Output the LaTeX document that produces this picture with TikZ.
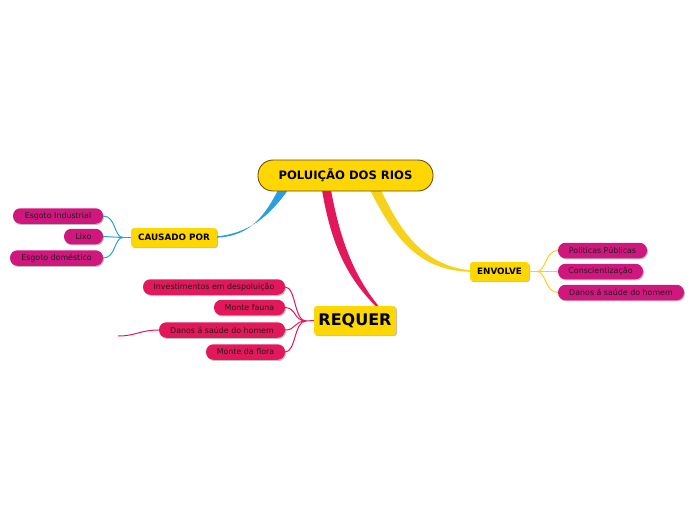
\documentclass[tikz,border=0pt]{standalone}
\usepackage{fontspec}
\setmainfont{DejaVu Sans}
\usetikzlibrary{shadows}
\definecolor{gold}{HTML}{FFD700}
\definecolor{brownb}{HTML}{6B4A1E}
\definecolor{magleaf}{HTML}{CF177E}
\definecolor{crim}{HTML}{E2185B}
\definecolor{bluebr}{HTML}{2A9FE0}
\definecolor{yelbr}{HTML}{F7D21C}
\definecolor{txt}{HTML}{1E1E1E}
\begin{document}
\begin{tikzpicture}[x=1pt,y=-1pt,
  shd/.style={drop shadow={shadow xshift=1pt,shadow yshift=-1.2pt,opacity=0.25,fill=black}},
  central/.style={draw=brownb,line width=0.9pt,fill=gold,rounded corners=15pt,minimum width=175pt,minimum height=31pt,inner sep=0pt,font=\fontsize{11.6}{13}\selectfont\bfseries,text=black},
  sub/.style={shd,fill=gold,rounded corners=3pt,minimum height=19pt,inner sep=0pt,font=\fontsize{8.8}{10}\selectfont\bfseries,text=black},
  leafm/.style={shd,fill=magleaf,rounded corners=7.5pt,minimum height=15.5pt,inner sep=0pt,font=\fontsize{7.9}{9}\selectfont,text=txt},
  leafc/.style={leafm,fill=crim},
  lnb/.style={draw=bluebr,line width=1pt},
  lny/.style={draw=yelbr,line width=1pt},
  lnc/.style={draw=crim,line width=1pt},
]
\useasboundingbox (0,0) rectangle (696,520);
% main tapered branches
\fill[bluebr] (278,190) .. controls (262,222) and (245,236.5) .. (217,237.6) -- (217,236.4) .. controls (248,233) and (268,218) .. (288,190) -- cycle;
\fill[crim] (322,190) .. controls (332,250) and (350,280) .. (375.5,306) -- (378.5,306) .. controls (356,278) and (341,245) .. (331,190) -- cycle;
\fill[yelbr] (370,190) .. controls (395,240) and (420,270.5) .. (470,271.8) -- (470,270.4) .. controls (425,265) and (402,235) .. (381,190) -- cycle;

% nodes
\node[central] (root) at (345.5,175.5) {POLUIÇÃO DOS RIOS};
\node[sub,minimum width=86pt] (cau) at (174,237.5) {CAUSADO POR};
\node[sub,minimum width=59pt] (env) at (499.5,271.5) {ENVOLVE};
\node[sub,minimum width=82pt,minimum height=29pt,font=\fontsize{16}{18}\selectfont\bfseries] (req) at (355,320.5) {REQUER};

\node[leafm,minimum width=90pt] (ei) at (58,216) {Esgoto Industrial};
\node[leafm,minimum width=39pt] (lx) at (83.5,236.5) {Lixo};
\node[leafm,minimum width=93pt] (ed) at (56.5,258) {Esgoto doméstico};

\node[leafm,minimum width=89pt] (pp) at (602.5,250.5) {Políticas Públicas};
\node[leafm,minimum width=85pt] (cs) at (600.5,271.5) {Conscientização};
\node[leafm,minimum width=126pt] (dr) at (621,292.5) {Danos á saúde do homem};

\node[leafc,minimum width=142pt] (inv) at (214,287) {Investimentos em despoluição};
\node[leafc,minimum width=71pt] (mf) at (249.5,307.5) {Monte fauna};
\node[leafc,minimum width=126pt] (dl) at (222,330) {Danos á saúde do homem};
\node[leafc,minimum width=79pt] (mfl) at (245.5,352) {Monte da flora};

% junctions
\coordinate (jc) at (123,237.5);
\coordinate (je) at (537,271.5);
\coordinate (jr) at (306,321);
\coordinate (fe) at (118,336);

\draw[lnb] (cau.west) -- (jc);
\draw[lnb] (ei.east) .. controls (116,216) and (114,237.5) .. (jc);
\draw[lnb] (lx.east) -- (jc);
\draw[lnb] (ed.east) .. controls (116,258) and (114,237.5) .. (jc);

\draw[lny] (env.east) -- (je);
\draw[lny] (pp.west) .. controls (545,250.5) and (546,271.5) .. (je);
\draw[lny] (cs.west) -- (je);
\draw[lny] (dr.west) .. controls (545,292.5) and (546,271.5) .. (je);

\draw[lnc] (req.west) -- (jr);
\draw[lnc] (inv.east) .. controls (296,287) and (294,321) .. (jr);
\draw[lnc] (mf.east) .. controls (296,307.5) and (294,321) .. (jr);
\draw[lnc] (dl.east) .. controls (296,330) and (294,321) .. (jr);
\draw[lnc] (mfl.east) .. controls (296,352) and (294,321) .. (jr);
\draw[lnc] (dl.west) .. controls (140,330) and (136,336) .. (fe);
\end{tikzpicture}
\end{document}
